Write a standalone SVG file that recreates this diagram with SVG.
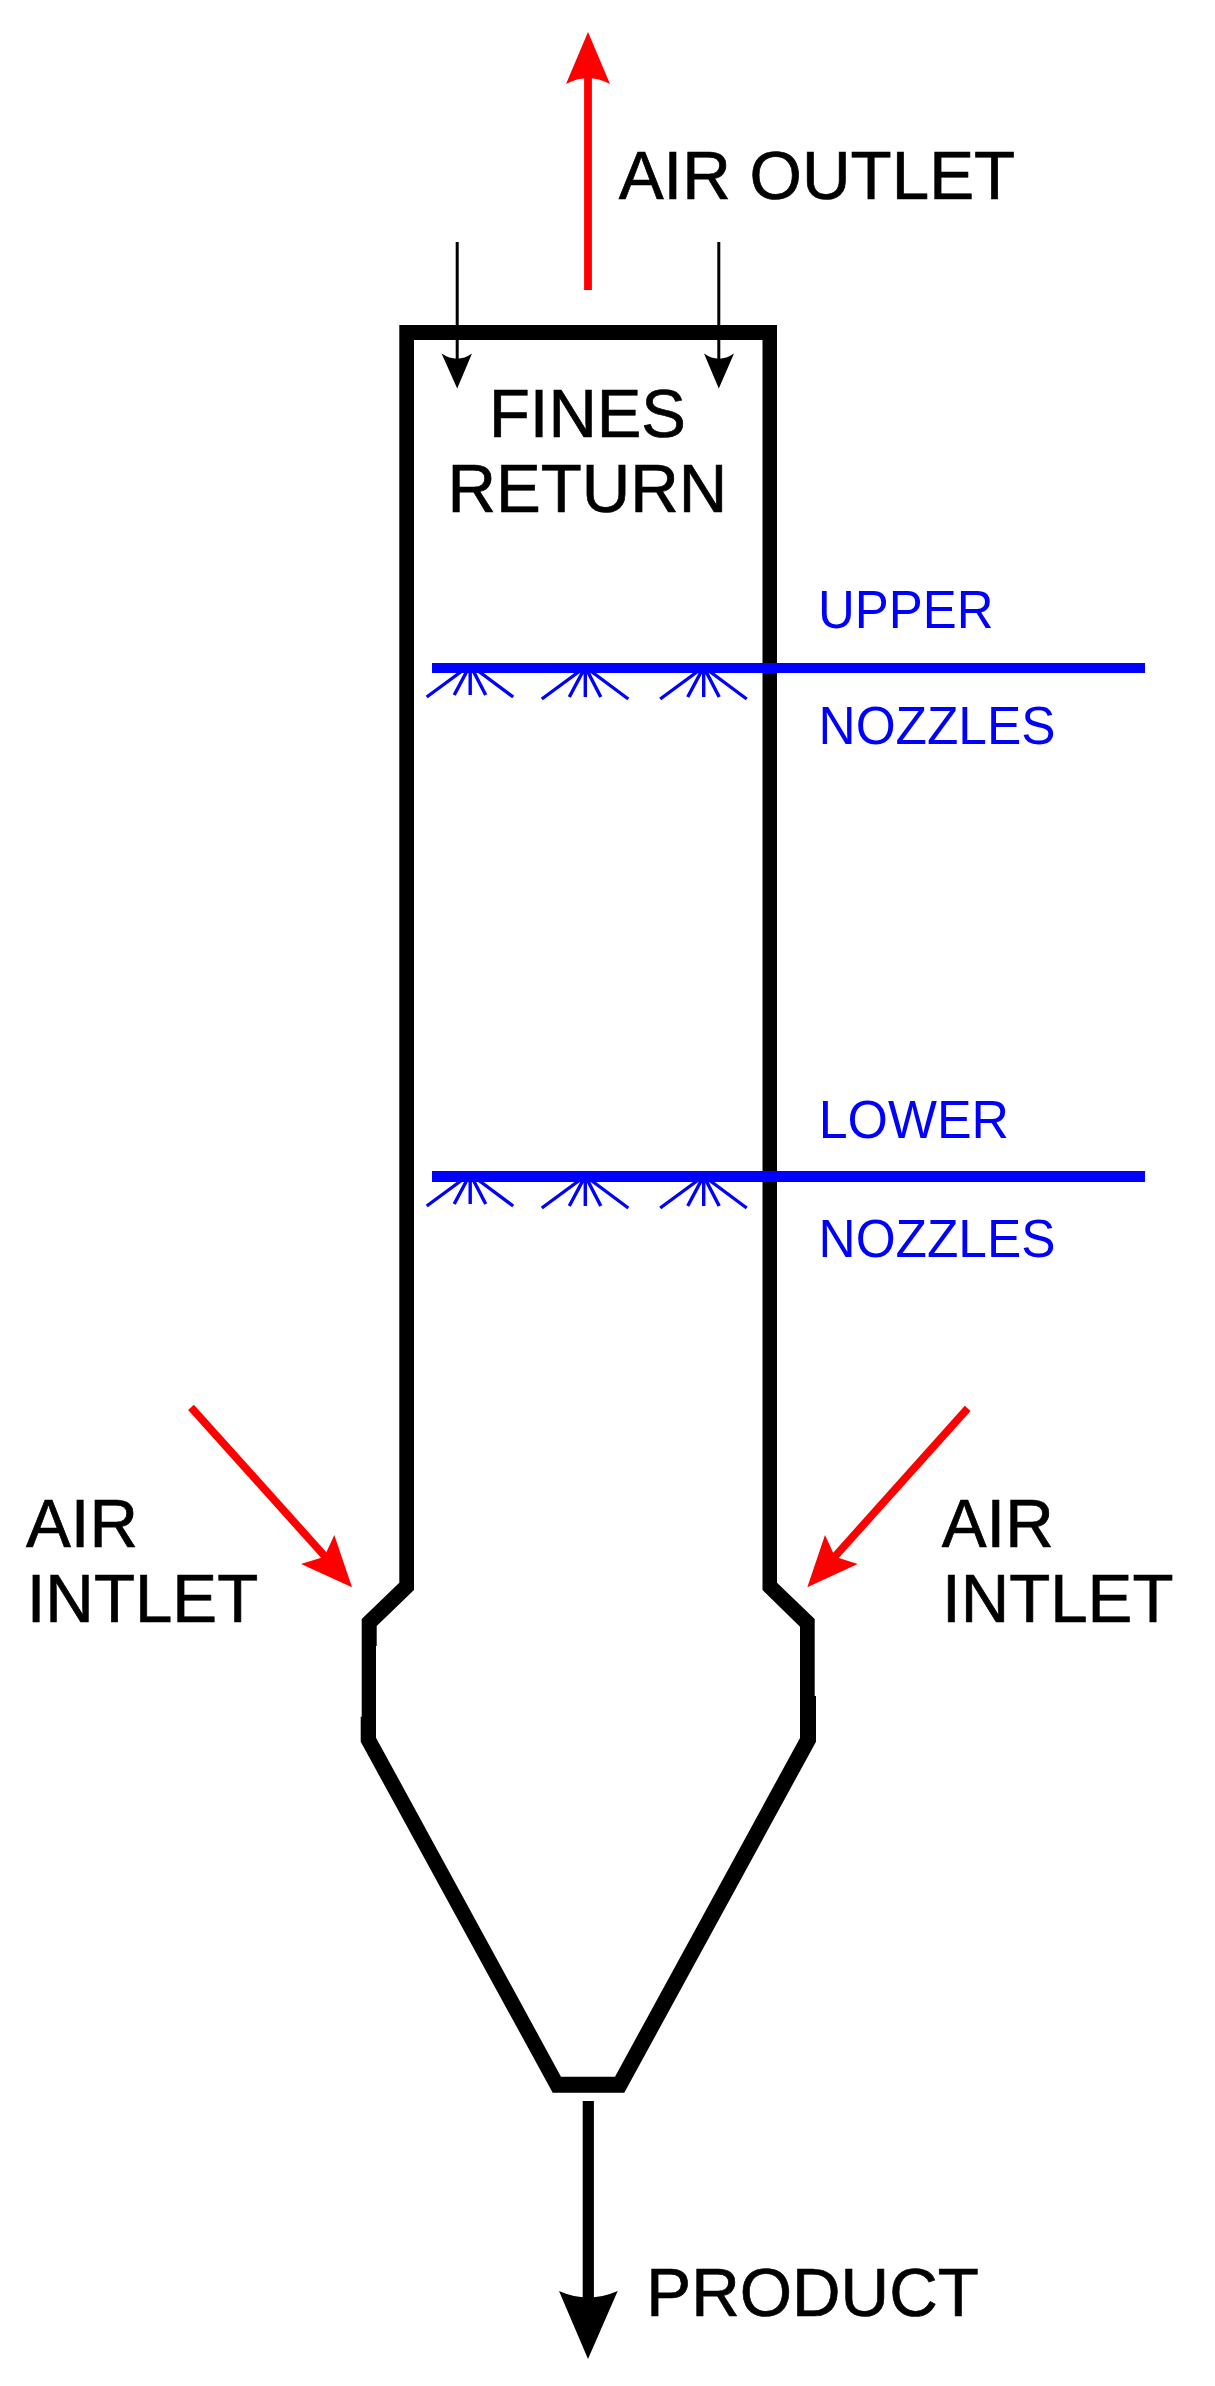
<svg xmlns="http://www.w3.org/2000/svg" width="1215" height="2386" viewBox="0 0 1215 2386">
<style>
text { font-family: "Liberation Sans", Arial, sans-serif; }
.big { font-size: 69px; fill: #000; stroke: #000; stroke-width: 0.7; }
.mid { font-size: 54.5px; fill: #00f; }
.ray { stroke: #00f; stroke-width: 3.4; fill: none; }
.bar { fill: #00f; }
.red { stroke: #f00; stroke-width: 7.8; fill: none; }
.redh { fill: #f00; }
.blk { stroke: #000; fill: none; }
.blkh { fill: #000; }
</style>
<defs>
<g id="spray">
<path class="ray" d="M0 0L-43.5 32M0 0L-16 30M0 0V30M0 0L15.5 30M0 0L43 32"/>
</g>
</defs>
<rect width="1215" height="2386" fill="#fff"/>
<g id="vessel">
<path fill="#000" fill-rule="evenodd" d="M399.3 325H777V1582.7L814.7 1619V1696H816V1741.7L624.3 2092.7H552.7L360.7 1741.7V1716.7H361.7V1619L399.3 1582.7ZM414 340V1590L376.7 1626V1646H376V1737.7L561 2076.7H615L800 1738V1626.7L762.5 1590V340Z"/>
</g>
<g id="connectors">
<path class="red" d="M588 290V75"/>
<path class="redh" d="M588 32L610 84Q588 72 566 84Z"/>
<path class="blk" stroke-width="3" d="M457.2 242V365M718.8 242V365"/>
<path class="blkh" d="M457.2 388.6L441.6 353.6Q457.2 364 472 353.6Z"/>
<path class="blkh" d="M718.8 388.6L704 353.6Q718.8 364 734 353.6Z"/>
<path class="red" d="M191 1407.3L330 1562"/>
<path class="redh" d="M352 1587.3L301 1564L324.3 1556.7L334.3 1535Z"/>
<path class="red" d="M967.7 1408.3L830 1562"/>
<path class="redh" d="M807.3 1587.3L825 1535L835 1556.7L857.7 1564Z"/>
<path class="blk" stroke-width="11.2" d="M588.3 2101V2310"/>
<path class="blkh" d="M588 2359L559 2291Q588 2304 617.7 2291Z"/>
</g>
<g id="upper-nozzles">
<use href="#spray" x="470.2" y="665"/>
<use href="#spray" x="585.3" y="667"/>
<use href="#spray" x="703.7" y="667"/>
<rect class="bar" x="432" y="663" width="713" height="10"/>
</g>
<g id="lower-nozzles">
<use href="#spray" x="470.2" y="1174"/>
<use href="#spray" x="585.3" y="1176"/>
<use href="#spray" x="703.7" y="1176"/>
<rect class="bar" x="432" y="1171" width="713" height="11"/>
</g>
<g id="label-air-outlet"><text class="big" x="618.7" y="199" textLength="396.5" lengthAdjust="spacingAndGlyphs">AIR OUTLET</text></g>
<g id="label-fines-return">
<text class="big" x="489" y="436.8" textLength="197" lengthAdjust="spacingAndGlyphs">FINES</text>
<text class="big" x="447.4" y="511.8" textLength="280" lengthAdjust="spacingAndGlyphs">RETURN</text>
</g>
<g id="label-upper-nozzles">
<text class="mid" x="818" y="627.7" textLength="175.5" lengthAdjust="spacingAndGlyphs">UPPER</text>
<text class="mid" x="818.6" y="743.7" textLength="236.8" lengthAdjust="spacingAndGlyphs">NOZZLES</text>
</g>
<g id="label-lower-nozzles">
<text class="mid" x="818.7" y="1137.7" textLength="190.3" lengthAdjust="spacingAndGlyphs">LOWER</text>
<text class="mid" x="818.6" y="1257.3" textLength="236.8" lengthAdjust="spacingAndGlyphs">NOZZLES</text>
</g>
<g id="label-air-inlet-left">
<text class="big" x="26" y="1546.7" textLength="112" lengthAdjust="spacingAndGlyphs">AIR</text>
<text class="big" x="26.7" y="1621.7" textLength="231.5" lengthAdjust="spacingAndGlyphs">INTLET</text>
</g>
<g id="label-air-inlet-right">
<text class="big" x="941.7" y="1546.7" textLength="112" lengthAdjust="spacingAndGlyphs">AIR</text>
<text class="big" x="942" y="1621.7" textLength="231.5" lengthAdjust="spacingAndGlyphs">INTLET</text>
</g>
<g id="label-product"><text class="big" x="646.3" y="2315.7" textLength="332.5" lengthAdjust="spacingAndGlyphs">PRODUCT</text></g>
</svg>
